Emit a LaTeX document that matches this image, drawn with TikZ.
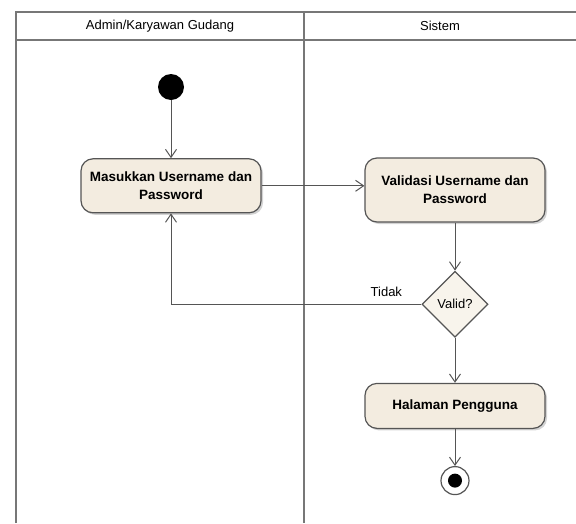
\documentclass[tikz,border=0pt]{standalone}
\usepackage{fontspec}
\setmainfont{Liberation Sans}
\usetikzlibrary{arrows.meta,positioning,shapes.geometric,shadows}

\definecolor{isiaksi}{RGB}{243,236,224}
\definecolor{garis}{RGB}{85,85,85}

\begin{document}
\begin{tikzpicture}[x=1pt,y=-1pt,
    aksi/.style={rectangle, rounded corners=12pt, draw=garis, line width=1.2pt, fill=isiaksi,
        drop shadow={shadow xshift=2pt, shadow yshift=-2pt, opacity=0.35},
        minimum width=180pt, align=center, font=\fontsize{13.5}{18}\selectfont\bfseries},
    alur/.style={draw=garis, line width=1pt, -{Straight Barb[length=8pt,width=11pt]}},
    lajur/.style={draw=garis!80, line width=1.3pt}]
    \useasboundingbox (0,0) rectangle (576,523);
    % swimlanes
    \draw[lajur] (16,523) -- (16,12) -- (576,12);
    \draw[lajur] (16,40) -- (576,40);
    \draw[lajur] (304,12) -- (304,523);
    \node(lajuradmin) at (160,26) {\fontsize{13}{15}\selectfont Admin/Karyawan Gudang};
    \node(lajursistem) at (440,26) {\fontsize{13}{15}\selectfont Sistem};

    \node(start) [circle, fill=black, minimum size=26pt, inner sep=0pt] at (171,87) {};
    \node(masuk) [aksi, minimum height=54pt, below=58pt of start]{Masukkan Username dan\\Password};
    \node(validasi) [aksi, minimum height=64pt] at (455,190) {Validasi Username dan\\Password};
    \node(valid) [diamond, draw=garis, line width=1.2pt, fill=isiaksi!60, inner sep=0pt,
        minimum width=66pt, minimum height=66pt, below=48pt of validasi]{\fontsize{13}{15}\selectfont Valid?};
    \node(halaman) [aksi, minimum height=45pt, below=45pt of valid]{Halaman Pengguna};
    \node(selesai) [circle, draw=garis, line width=1.2pt, fill=white, minimum size=28pt, inner sep=0pt, below=37pt of halaman]{};
    \node(selesaidalam) [circle, fill=black, minimum size=14pt, inner sep=0pt] at (selesai) {};

    \draw[alur] (start) -- (masuk);
    \draw[alur] (masuk.east) -- (masuk.east -| validasi.west);
    \draw[alur] (validasi) -- (valid);
    \draw[alur] (valid.west) -| (masuk.south) node[pos=0.07, above=4pt]{\fontsize{13}{15}\selectfont Tidak};
    \draw[alur] (valid) -- (halaman);
    \draw[alur] (halaman) -- (selesai);
\end{tikzpicture}
\end{document}
